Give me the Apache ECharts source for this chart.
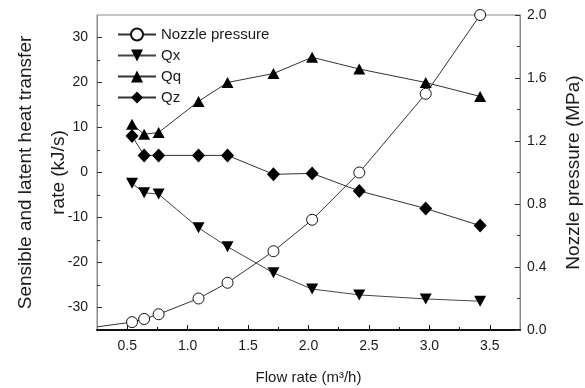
<!DOCTYPE html>
<html>
<head>
<meta charset="utf-8">
<script src="https://cdn.jsdelivr.net/npm/echarts@6/dist/echarts.min.js"></script>
<style>
  html, body { margin: 0; padding: 0; background: #fff; }
  #chart { width: 585px; height: 388px; }
</style>
</head>
<body>
<div id="chart"></div>
<script>
// flow rate (m3/h)
var flowRate = [0.54, 0.64, 0.76, 1.09, 1.33, 1.71, 2.03, 2.42, 2.97, 3.42];
var qx = [-2.4, -4.5, -4.8, -12.3, -16.5, -22.3, -25.9, -27.2, -28.1, -28.6];
var qq = [10.7, 8.5, 8.9, 15.8, 20.0, 22.0, 25.6, 23.0, 20.0, 16.9];
var qz = [8.1, 3.8, 3.8, 3.8, 3.8, -0.4, -0.2, -4.1, -8.0, -11.8];
// nozzle pressure (MPa); first entry is where the curve enters at the left edge
var pressFlow = [0.25, 0.54, 0.64, 0.76, 1.09, 1.33, 1.71, 2.03, 2.42, 2.97, 3.42];
var pressure = [0.02, 0.05, 0.07, 0.10, 0.20, 0.30, 0.50, 0.70, 1.00, 1.50, 2.00];

var xMajor = [0.5, 1.0, 1.5, 2.0, 2.5, 3.0, 3.5];
var xMinor = [0.75, 1.25, 1.75, 2.25, 2.75, 3.25];
var yMajor = [-30, -20, -10, 0, 10, 20, 30];
var yMinor = [-25, -15, -5, 5, 15, 25];

var font = 'Liberation Sans, Arial, sans-serif';
var ink = '#1a1a1a';

function pairs(xs, ys) {
  return xs.map(function (x, i) { return [x, ys[i]]; });
}

var pressData = pairs(pressFlow, pressure);
pressData[0] = { value: pressData[0], symbol: 'none' };

var chart = echarts.init(document.getElementById('chart'));
chart.setOption({
  animation: false,
  grid: { left: 97, right: 65, top: 15, bottom: 58, outerBoundsMode: 'none',
    show: true, borderColor: '#8a8a8a', borderWidth: 1 },
  legend: {
    orient: 'vertical', left: 112, top: 22, itemGap: 6, itemWidth: 38, itemHeight: 15,
    textStyle: { fontFamily: font, fontSize: 15, color: ink },
    data: ['Nozzle pressure', 'Qx', 'Qq', 'Qz']
  },
  xAxis: [{
    type: 'value', min: 0.25, max: 3.75,
    name: 'Flow rate (m³/h)', nameLocation: 'middle', nameGap: 40,
    nameTextStyle: { fontFamily: font, fontSize: 15, color: ink },
    axisLine: { onZero: false, lineStyle: { color: '#111', width: 2 } },
    axisTick: { inside: true, length: 5, customValues: xMajor, lineStyle: { color: '#111' } },
    axisLabel: { customValues: xMajor, fontFamily: font, fontSize: 14, color: ink, margin: 9,
      formatter: function (v) { return v.toFixed(1); } },
    splitLine: { show: false }
  }, {
    type: 'value', min: 0.25, max: 3.75, position: 'bottom',
    axisLine: { show: false, onZero: false },
    axisTick: { inside: true, length: 3, customValues: xMinor, lineStyle: { color: '#111' } },
    axisLabel: { show: false }, splitLine: { show: false }
  }],
  yAxis: [{
    type: 'value', min: -35, max: 35, position: 'left',
    name: 'Sensible and latent heat transfer\nrate (kJ/s)', nameLocation: 'middle', nameRotate: 90,
    nameGap: 22, nameMoveOverlap: false,
    nameTextStyle: { fontFamily: font, fontSize: 19, color: ink, lineHeight: 33 },
    axisLine: { show: true, onZero: false, lineStyle: { color: '#8a8a8a', width: 1 } },
    axisTick: { inside: true, length: 5, customValues: yMajor, lineStyle: { color: '#333' } },
    axisLabel: { customValues: yMajor, fontFamily: font, fontSize: 14, color: ink, margin: 9 },
    splitLine: { show: false }
  }, {
    type: 'value', min: 0, max: 2, interval: 0.4, position: 'right',
    name: 'Nozzle pressure (MPa)', nameLocation: 'middle', nameRotate: 90, nameGap: 44,
    nameTextStyle: { fontFamily: font, fontSize: 19, color: ink },
    axisLine: { show: true, onZero: false, lineStyle: { color: '#8a8a8a', width: 1 } },
    axisTick: { inside: true, length: 5, lineStyle: { color: '#333' } },
    minorTick: { show: true, splitNumber: 2, length: 3, lineStyle: { color: '#333' } },
    axisLabel: { fontFamily: font, fontSize: 14, color: ink, margin: 7,
      formatter: function (v) { return v.toFixed(1); } },
    splitLine: { show: false }
  }, {
    type: 'value', min: -35, max: 35, position: 'left',
    axisLine: { show: false, onZero: false },
    axisTick: { inside: true, length: 3, customValues: yMinor, lineStyle: { color: '#333' } },
    axisLabel: { show: false }, splitLine: { show: false }
  }],
  series: [{
    name: 'Nozzle pressure', type: 'line', yAxisIndex: 1, data: pressData,
    symbol: 'circle', symbolSize: 11,
    itemStyle: { color: '#fff', borderColor: '#111', borderWidth: 1 },
    lineStyle: { color: '#333', width: 1 }, z: 2
  }, {
    name: 'Qx', type: 'line', yAxisIndex: 0, data: pairs(flowRate, qx),
    symbol: 'path://M0,0 L10,0 L5,9 Z', symbolSize: [12, 11],
    itemStyle: { color: '#000' }, lineStyle: { color: '#444', width: 1 }, z: 3
  }, {
    name: 'Qq', type: 'line', yAxisIndex: 0, data: pairs(flowRate, qq),
    symbol: 'triangle', symbolSize: [12, 11],
    itemStyle: { color: '#000' }, lineStyle: { color: '#333', width: 1 }, z: 3
  }, {
    name: 'Qz', type: 'line', yAxisIndex: 0, data: pairs(flowRate, qz),
    symbol: 'diamond', symbolSize: [13, 14],
    itemStyle: { color: '#000' }, lineStyle: { color: '#333', width: 1 }, z: 3
  }]
});
</script>
</body>
</html>
